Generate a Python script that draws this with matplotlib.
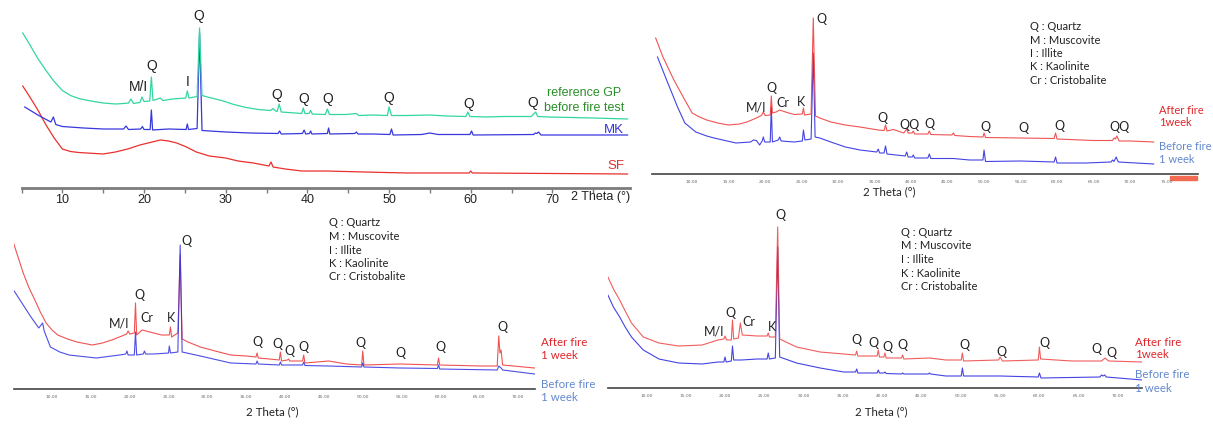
import matplotlib
matplotlib.use("Agg")
import matplotlib.pyplot as plt
from matplotlib.patches import Rectangle
from matplotlib.transforms import blended_transform_factory

W, H = 1213, 424

# ---- panel A: raw materials (2theta in deg, intensity in a.u.) ----
gp_tt = [5.15, 6.0, 7.0, 8.0, 9.0, 10.0, 11.0, 12.0, 13.5, 15.0, 16.5, 17.5, 18.1, 18.4, 18.7,
         19.5, 19.75, 20.0, 20.7, 20.9, 21.1, 22.0, 22.3, 23.5, 25.1, 25.3, 25.5, 26.5, 26.8,
         27.1, 28.0, 29.5, 31.0, 32.5, 34.0, 35.5, 35.8, 36.1, 36.3, 36.55, 36.8, 38.5, 39.3,
         39.5, 39.7, 40.2, 40.4, 40.6, 42.2, 42.45, 42.7, 44.75, 46.0, 46.3, 48.0, 49.8, 50.0,
         50.3, 52.2, 55.0, 57.1, 59.4, 59.65, 59.9, 62.0, 64.0, 67.4, 67.7, 67.95, 68.2, 69.5,
         75.0, 79.2]
gp_int = [154.5, 143, 129, 117, 106, 97, 92, 89, 86.5, 84.5, 83.5, 84, 84.5, 88.5, 84,
          85, 90.5, 86, 86.5, 110.5, 87, 89.5, 87, 88.5, 89.5, 96.5, 89.5, 91, 159.5,
          92, 90, 87, 83, 80, 78, 77, 79, 76.5, 76, 83.5, 75.5, 74.5, 74,
          79.5, 74, 74, 77, 73.5, 73, 78.5, 73, 73, 74, 72, 72.5, 72, 80.5,
          72, 72, 72.5, 71.5, 71, 75.5, 71, 70.5, 71, 71, 73.5, 75.5, 71, 70.5,
          69.5, 68.5]

mk_tt = [5.4, 7.0, 8.6, 8.9, 9.2, 10.0, 12.6, 15.0, 17.5, 17.8, 18.1, 19.6, 19.8, 20.0, 20.75,
         20.9, 21.05, 23.0, 25.15, 25.3, 25.45, 26.5, 26.8, 27.1, 30.0, 33.0, 36.4, 36.6, 36.8,
         39.4, 39.6, 39.8, 40.25, 40.4, 40.55, 42.45, 42.6, 42.75, 45.8, 46.0, 46.2, 48.0, 50.1,
         50.3, 50.5, 54.0, 55.0, 56.0, 59.9, 60.1, 60.3, 67.7, 67.9, 68.1, 68.3, 68.6, 79.2]
mk_int = [80.5, 72.5, 65.5, 70.5, 63, 61, 59.5, 58.5, 58.5, 61.5, 58, 58.5, 61, 58, 58,
          77.5, 57.5, 58.5, 58, 63.5, 58, 59, 154.5, 57, 55.5, 54.5, 54, 56.5, 53.5,
          54, 57.5, 53.5, 54, 56.5, 53.5, 54, 59.5, 53.5, 54, 55.5, 53.5, 53.5, 53,
          58.5, 52.5, 53, 54.5, 53, 53, 56.5, 52.5, 53, 54.5, 54, 55.5, 52.5, 52.5]

sf_tt = [5.15, 6.1, 7.0, 8.0, 9.0, 10.0, 11.0, 12.0, 13.0, 15.0, 16.5, 18.0, 19.5, 21.0, 22.0,
         23.0, 24.0, 25.2, 26.4, 28.0, 30.0, 31.5, 33.4, 35.3, 35.55, 35.8, 37.3, 39.3, 42.3,
         47.0, 52.2, 59.8, 60.0, 60.2, 70.0, 79.2]
sf_int = [101.5, 89.5, 77.5, 62.5, 49.5, 38.5, 36, 35, 34.5, 33.5, 35.5, 38.5, 42.5, 45.5, 47.5,
          46.5, 44.5, 40.5, 35.5, 31.5, 29.5, 26.5, 24.5, 21.5, 25.5, 20.5, 18.5, 16.5, 16.5,
          15.5, 14.5, 14.5, 16.5, 14.5, 14.0, 13.5]

a_peaks = [("M/I", 19.3, 100.5), ("Q", 21.0, 121.5), ("I", 25.3, 105.5), ("Q", 26.7, 171.5),
           ("Q", 36.3, 92.5), ("Q", 39.5, 88.5), ("Q", 42.5, 88.5), ("Q", 50.0, 89.5),
           ("Q", 59.7, 83.5), ("Q", 67.6, 84.5)]

# ---- panel B: top right ----
b_after_tt = [5.0, 6.0, 7.5, 9.0, 10.0, 11.0, 12.0, 13.5, 15.0, 16.5, 17.5, 18.5, 19.5, 19.75,
              20.0, 20.7, 20.85, 21.0, 21.5, 22.0, 23.0, 24.0, 25.1, 25.25, 25.4, 26.3, 26.6,
              26.9, 27.5, 29.0, 31.0, 33.0, 35.5, 36.3, 36.5, 36.7, 37.6, 39.0, 39.4, 39.6,
              40.15, 40.3, 40.5, 42.3, 42.5, 42.7, 45.6, 45.8, 46.0, 48.0, 49.85, 50.0, 50.2,
              55.0, 59.6, 59.8, 60.0, 65.0, 67.6, 67.8, 68.0, 68.2, 68.5, 70.0, 73.25]
b_after_int = [136, 117, 94, 74, 61, 57, 54, 51, 49, 50, 52, 55, 58.5, 62,
               58.5, 59, 78, 61, 62, 64, 61.5, 59.5, 60, 66, 59, 60, 156,
               58, 56, 52, 49, 47, 44, 43.5, 49, 43, 44.5, 41, 45, 41,
               41, 43, 40, 40, 43, 39.5, 39, 41, 38.5, 37.5, 37, 41, 36.5,
               36, 35.5, 41, 35, 33.5, 33.5, 36, 35, 38, 33, 33, 32]

b_before_tt = [5.25, 6.5, 8.0, 9.0, 10.0, 10.5, 12.0, 13.0, 16.0, 18.0, 18.4, 18.8, 19.25, 19.6,
               19.75, 19.95, 20.7, 20.85, 21.0, 21.8, 22.0, 22.2, 24.0, 25.1, 25.25, 25.45, 26.3,
               26.6, 26.85, 27.5, 29.0, 31.0, 33.0, 35.3, 35.5, 35.7, 36.3, 36.5, 36.7, 39.2,
               39.4, 39.6, 40.15, 40.3, 40.5, 42.3, 42.5, 42.7, 45.8, 48.0, 49.85, 50.0, 50.2,
               55.0, 59.6, 59.8, 60.0, 64.0, 67.4, 67.6, 67.8, 68.1, 68.4, 73.25]
b_before_int = [117, 94, 67, 51, 45, 42, 38, 36, 31, 32, 34, 33.5, 29, 33,
                37, 32, 32, 67, 32, 34, 37, 33, 32, 33, 44, 34, 35,
                121, 37, 36, 32, 27, 24, 22, 25, 21, 21, 28, 20, 18,
                22, 17, 17, 19, 16, 16, 20, 15.5, 15.5, 14, 14, 24, 12.5,
                13, 12, 17, 11, 11, 12, 14, 12.5, 17, 12, 10]

b_peaks = [("M/I", 18.75, 67), ("Q", 20.9, 86), ("Cr", 22.4, 71), ("K", 24.85, 72),
           ("Q", 27.75, 155), ("Q", 36.1, 56), ("QQ", 39.75, 49), ("Q", 42.5, 50),
           ("Q", 50.25, 47), ("Q", 55.4, 46), ("Q", 60.35, 48), ("QQ", 68.5, 47)]

# ---- panel C: bottom left ----
c_after_tt = [5.05, 6.3, 7.0, 7.8, 8.5, 9.25, 10.0, 10.75, 12.0, 13.2, 15.2, 16.5, 17.7, 19.0,
              19.6, 19.8, 20.0, 20.6, 20.75, 20.9, 21.6, 23.1, 24.1, 25.1, 25.25, 25.4, 26.2,
              26.5, 26.75, 27.5, 29.1, 31.0, 33.0, 35.0, 36.25, 36.4, 36.55, 38.0, 39.25, 39.4,
              39.55, 40.3, 40.45, 40.6, 42.25, 42.4, 42.55, 45.6, 47.9, 49.85, 50.0, 50.15, 54.8,
              59.6, 59.75, 59.9, 65.2, 67.3, 67.5, 67.65, 67.8, 68.0, 72.1]
c_after_int = [146, 116, 102, 89, 77, 66, 59, 54, 50, 47, 44, 46, 49, 53,
               55, 58, 55, 56, 86, 54, 59, 56, 54, 54, 62, 52, 56,
               134, 50, 47, 42, 38, 34, 33, 32, 36, 31, 30, 29, 37,
               28, 29, 30, 28, 28, 34, 26, 28, 25, 24, 38, 24, 25,
               24, 31, 24, 23, 23, 53, 36, 39, 24, 21]

c_before_tt = [5.05, 6.3, 7.3, 8.3, 8.8, 9.0, 9.8, 11.0, 12.2, 15.7, 18.7, 19.5, 19.65, 19.8,
               20.6, 20.75, 20.9, 21.75, 21.9, 22.05, 23.1, 25.0, 25.1, 25.25, 26.2, 26.5, 26.75,
               29.1, 33.0, 36.25, 36.4, 36.55, 39.25, 39.4, 39.55, 42.25, 42.4, 42.55, 45.6,
               49.85, 50.0, 50.15, 54.8, 59.6, 59.75, 59.9, 67.3, 67.5, 67.8, 68.0, 72.1]
c_before_int = [99, 84, 72, 61, 66, 58, 42, 37, 34, 31, 34, 35, 38, 34,
                34, 57, 34, 35, 38, 35, 35, 36, 43, 36, 37, 144, 37,
                33, 26, 25, 28, 25, 24, 27, 24, 24, 27, 23.5, 23,
                22, 26, 22, 21, 20.5, 24, 20, 19, 23, 21, 19, 15]

c_peaks = [("M/I", 18.65, 66), ("Q", 21.2, 94), ("Cr", 22.2, 71), ("K", 25.3, 71),
           ("Q", 27.3, 148), ("Q", 36.4, 47), ("Q", 39.0, 45), ("Q", 40.5, 38),
           ("Q", 42.4, 42), ("Q", 49.75, 46), ("Q", 54.8, 36), ("Q", 60.0, 42), ("Q", 68.0, 62)]

# ---- panel D: bottom right ----
d_after_tt = [5.1, 5.8, 6.6, 7.3, 8.1, 9.6, 11.6, 14.1, 17.1, 19.1, 19.85, 20.0, 20.2, 20.8,
              20.95, 21.1, 21.7, 21.95, 22.2, 24.1, 25.35, 25.5, 25.65, 26.4, 26.7, 26.95, 29.1,
              32.1, 35.1, 36.6, 36.75, 36.9, 39.35, 39.5, 39.65, 40.2, 40.35, 40.5, 42.45, 42.6,
              42.75, 46.0, 48.1, 50.05, 50.2, 50.35, 54.8, 55.0, 55.3, 59.85, 60.0, 60.15, 64.1,
              67.9, 68.35, 68.8, 73.1]
d_after_int = [111, 99, 88, 77, 65, 51, 45, 42, 43, 48, 49, 52, 48, 48,
               68, 49, 50, 65, 53, 52, 52, 55, 51, 51, 161, 49, 41,
               36, 34, 33, 37, 32, 32, 38, 31, 31, 35, 30, 30, 33,
               29, 30, 28, 28, 35, 27, 28, 31, 27, 28, 41, 29, 27,
               27, 30, 27, 26]

d_before_tt = [5.1, 5.8, 6.6, 7.3, 8.1, 9.6, 11.6, 14.1, 17.1, 19.1, 19.85, 20.0, 20.15, 20.8,
               20.95, 21.1, 22.1, 24.1, 25.35, 25.5, 25.65, 26.4, 26.7, 26.95, 29.1, 32.1, 35.1,
               36.6, 36.75, 36.9, 39.35, 39.5, 39.65, 40.2, 40.35, 40.5, 42.45, 42.6, 42.75,
               45.85, 46.0, 46.15, 48.1, 50.05, 50.2, 50.35, 55.0, 59.85, 60.0, 60.2, 67.7, 67.9,
               68.1, 68.3, 68.5, 73.1]
d_before_int = [93, 81, 71, 61, 51, 38, 29, 25, 24, 26, 26, 31, 26, 27,
                42, 28, 28, 29, 29, 35, 29, 30, 141, 31, 25, 20, 16,
                16, 19, 15, 15, 18, 15, 15, 16, 14.5, 14, 15, 14,
                14, 15, 14, 12, 12, 20, 12, 12, 11, 15, 10, 11, 13,
                12, 13, 11, 8]

d_peaks = [("M/I", 18.6, 57), ("Q", 20.75, 75), ("Cr", 23.0, 66), ("K", 25.95, 61),
           ("Q", 27.0, 173), ("Q", 36.7, 48), ("Q", 38.85, 45), ("Q", 40.7, 41),
           ("Q", 42.6, 43), ("Q", 50.5, 43), ("Q", 55.2, 36), ("Q", 60.6, 45),
           ("Q", 67.25, 39), ("Q", 69.1, 35)]

phases = ["Q : Quartz", "M : Muscovite", "I : Illite", "K : Kaolinite", "Cr : Cristobalite"]

RED = "#ee3535"
BLUE = "#2f2fe0"
LBLUE = "#6288cc"
CAL = ["Lato", "DejaVu Sans"]
ARIAL = ["Liberation Sans", "DejaVu Sans"]

fig = plt.figure(figsize=(W / 100, H / 100), dpi=100)


def make_panel(x0, x1, tt0, tt1, axis_y, top_y, spine_color, spine_lw):
    ax = fig.add_axes([x0 / W, 1 - axis_y / H, (x1 - x0) / W, (axis_y - top_y) / H])
    ax.set_xlim(tt0, tt1)
    ax.set_ylim(0, axis_y - top_y)
    ax.patch.set_alpha(0)
    for s in ["top", "left", "right"]:
        ax.spines[s].set_visible(False)
    ax.spines["bottom"].set_color(spine_color)
    ax.spines["bottom"].set_linewidth(spine_lw)
    ax.set_yticks([])
    return ax


def xrd_ticks(ax, stop, label, label_tt, label_y):
    ticks = list(range(10, stop + 1, 5))
    ax.set_xticks(ticks)
    ax.set_xticklabels([f"{t:.2f}" for t in ticks], fontsize=3.2, color="#666666")
    ax.tick_params(axis="x", length=0, pad=4)
    ax.text(label_tt, label_y, label, fontsize=8.3, family=CAL, ha="center", va="center",
            color="#222222", clip_on=False)


def peak_labels(ax, peaks, fam, size):
    for txt, tt, y in peaks:
        ax.text(tt, y, txt, fontsize=size, family=fam, ha="center", va="center",
                color="#222222", clip_on=False)


def phase_list(ax, tt, y_top, step):
    for i, p in enumerate(phases):
        ax.text(tt, y_top - i * step, p, fontsize=8, family=CAL, ha="left", va="center",
                color="#222222", clip_on=False)


def side_labels(ax, tt, after_y, before_y, after_txt, step, size=8.3):
    ax.text(tt, after_y, "After fire", fontsize=size, family=CAL, color="#e0262a",
            va="center", clip_on=False)
    ax.text(tt, after_y - step, after_txt, fontsize=size, family=CAL, color="#e0262a",
            va="center", clip_on=False)
    ax.text(tt, before_y, "Before fire", fontsize=size, family=CAL, color=LBLUE,
            va="center", clip_on=False)
    ax.text(tt, before_y - step, "1 week", fontsize=size, family=CAL, color=LBLUE,
            va="center", clip_on=False)


# panel A (top left)
axa = make_panel(21.5, 630, 5.3, 79.5, 187.5, 0, "#7c7c7c", 2.0)
axa.plot(sf_tt, sf_int, color="#e8302e", lw=0.9)
axa.plot(mk_tt, mk_int, color="#3737dc", lw=0.9)
axa.plot(gp_tt, gp_int, color="#33d6a0", lw=0.9)
axa.set_xticks(list(range(5, 80, 5)))
axa.set_xticklabels(["" if t % 10 else str(t) for t in range(5, 80, 5)],
                    fontsize=9, family=ARIAL, color="#222222")
axa.tick_params(axis="x", length=3.5, width=1.0, color="#7c7c7c", pad=1.5)
tr = blended_transform_factory(axa.transData, axa.transAxes)
axa.text(72.3, -0.05, "2 Theta (°)", transform=tr, fontsize=9, family=ARIAL,
         ha="left", va="center", color="#222222", clip_on=False)
peak_labels(axa, a_peaks, ARIAL, 10)
axa.text(73.9, 94.5, "reference GP", fontsize=9, family=ARIAL, color="#2a8f2a",
         ha="center", va="center", clip_on=False)
axa.text(73.9, 79.5, "before fire test", fontsize=9, family=ARIAL, color="#2a8f2a",
         ha="center", va="center", clip_on=False)
axa.text(78.8, 57.5, "MK", fontsize=9.5, family=ARIAL, color="#3535d8", ha="right",
         va="center", clip_on=False)
axa.text(78.8, 21.5, "SF", fontsize=9.5, family=ARIAL, color="#e03030", ha="right",
         va="center", clip_on=False)

# panel B (top right)
axb = make_panel(652, 1197.5, 4.5, 79.25, 174, 0, "#444444", 1.2)
axb.plot(b_before_tt, b_before_int, color=BLUE, lw=0.8, alpha=0.9)
axb.plot(b_after_tt, b_after_int, color=RED, lw=0.8, alpha=0.85)
axb.add_patch(Rectangle((75.5, -6), 3.75, 4.5, color="#f26b50", clip_on=False))
xrd_ticks(axb, 75, "2 Theta (°)", 37.0, -18)
peak_labels(axb, b_peaks, CAL, 9)
phase_list(axb, 56.25, 147, 13.3)
side_labels(axb, 74.0, 64, 27, "1week", 12.5, size=8)

# panel C (bottom left)
axc = make_panel(13.5, 534.5, 5.05, 72.1, 389, 205, "#444444", 1.2)
axc.plot(c_after_tt, c_after_int, color=RED, lw=0.8, alpha=0.85)
axc.plot(c_before_tt, c_before_int, color=BLUE, lw=0.8, alpha=0.85)
xrd_ticks(axc, 70, "2 Theta (°)", 38.4, -23)
peak_labels(axc, c_peaks, CAL, 9)
phase_list(axc, 45.6, 166, 13.5)
side_labels(axc, 72.9, 47, 5, "1 week", 13.5)

# panel D (bottom right)
axd = make_panel(607.9, 1142.4, 5.1, 73.1, 388, 205, "#444444", 1.2)
axd.plot(d_before_tt, d_before_int, color=BLUE, lw=0.8, alpha=0.9)
axd.plot(d_after_tt, d_after_int, color=RED, lw=0.8, alpha=0.8)
xrd_ticks(axd, 70, "2 Theta (°)", 39.85, -24)
peak_labels(axd, d_peaks, CAL, 9)
phase_list(axd, 42.35, 156, 13.7)
side_labels(axd, 72.2, 46, 13, "1week", 13)

fig.savefig("out.png", dpi=100)
